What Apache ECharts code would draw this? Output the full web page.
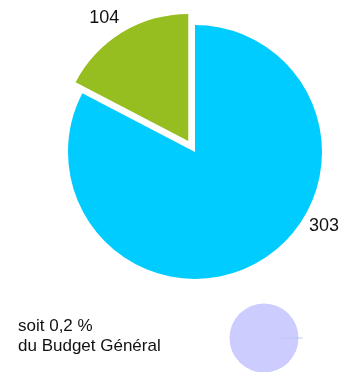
<!DOCTYPE html>
<html>
<head>
<meta charset="utf-8">
<script src="https://cdn.jsdelivr.net/npm/echarts@6/dist/echarts.min.js"></script>
<style>
  html, body { margin: 0; padding: 0; background: #fff; }
  #chart { width: 350px; height: 372px; }
</style>
</head>
<body>
<div id="chart"></div>
<script>
// camembert principal : libellés affichés et parts (en degrés)
var libelles = ['303', '104'];
var parts = [297.5, 62.5];
var couleurs = ['#00CCFF', '#97BE21'];

// petit camembert : part du budget général
var budget = [99.8, 0.2];
var couleursBudget = ['#CCCCFF', '#6F8FD8'];
var texteBudget = ['soit 0,2 %', 'du Budget Général'];

var chart = echarts.init(document.getElementById('chart'));

chart.setOption({
  animation: false,
  title: {
    text: texteBudget.join('\n'),
    left: 18,
    top: 316,
    padding: 0,
    textStyle: {
      fontFamily: 'Liberation Sans, Arial, sans-serif',
      fontSize: 17,
      fontWeight: 'normal',
      lineHeight: 20,
      color: '#111'
    }
  },
  series: [
    {
      type: 'pie',
      center: [195, 152],
      radius: 127,
      startAngle: 90,
      selectedMode: 'multiple',
      selectedOffset: 13,
      label: {
        show: true,
        position: 'outside',
        fontFamily: 'Liberation Sans, Arial, sans-serif',
        fontSize: 18,
        color: '#111',
        formatter: function (p) { return libelles[p.dataIndex]; }
      },
      labelLine: { show: false, length: 10, length2: 0 },
      labelLayout: function (p) {
        // décalages pour coller aux positions de l'original
        if (p.dataIndex === 0) { return { dx: 38, dy: -43 }; }
        return { dx: 7, dy: -6 };
      },
      emphasis: { disabled: true },
      data: parts.map(function (v, i) {
        return { value: v, selected: i === 1, itemStyle: { color: couleurs[i] } };
      })
    },
    {
      type: 'pie',
      center: [264, 338],
      radius: 34.5,
      startAngle: 0.36,
      clockwise: false,
      selectedMode: 'multiple',
      selectedOffset: 4,
      label: { show: false },
      labelLine: { show: false },
      emphasis: { disabled: true },
      data: budget.map(function (v, i) {
        return { value: v, selected: i === 1, itemStyle: { color: couleursBudget[i] } };
      })
    }
  ]
});
</script>
</body>
</html>
